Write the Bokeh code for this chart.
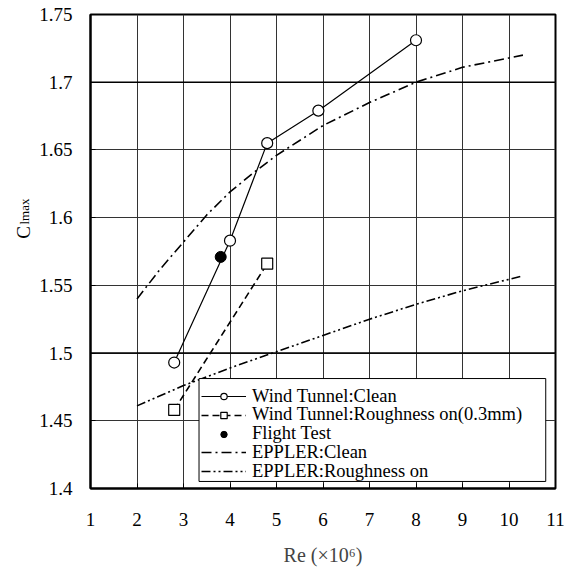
from bokeh.plotting import figure
from bokeh.models import Legend, LegendItem, Label, Span, FixedTicker, Range1d, BoxAnnotation
from bokeh.embed import file_html
from bokeh.resources import INLINE
import math

# ---- data ----
wt_clean_re = [2.8, 4.0, 4.8, 5.9, 8.0]
wt_clean_cl = [1.493, 1.583, 1.655, 1.679, 1.731]
wt_rough_re = [2.8, 4.8]
wt_rough_cl = [1.458, 1.566]
flight_re = [3.8]
flight_cl = [1.571]
eppler_clean_re = [2.0, 2.5, 3.0, 3.5, 4.0, 4.5, 5.0, 6.0, 7.0, 8.0, 9.0, 10.3]
eppler_clean_cl = [1.540, 1.562, 1.582, 1.602, 1.619, 1.633, 1.646, 1.668, 1.685, 1.700, 1.711, 1.720]
eppler_rough_re = [2.0, 3.0, 4.0, 5.0, 6.0, 7.0, 8.0, 9.0, 10.3]
eppler_rough_cl = [1.461, 1.476, 1.489, 1.501, 1.513, 1.525, 1.536, 1.546, 1.557]
x_ticks = [1, 2, 3, 4, 5, 6, 7, 8, 9, 10, 11]
y_ticks = [1.4, 1.45, 1.5, 1.55, 1.6, 1.65, 1.7, 1.75]
y_tick_labels = ["1.4", "1.45", "1.5", "1.55", "1.6", "1.65", "1.7", "1.75"]
legend_labels = ["Wind Tunnel:Clean", "Wind Tunnel:Roughness on(0.3mm)", "Flight Test",
                 "EPPLER:Clean", "EPPLER:Roughness on"]

FONT = "Liberation Serif"

p = figure(width=568, height=569, output_backend="svg", toolbar_location=None,
           x_range=Range1d(1, 11), y_range=Range1d(1.4, 1.75),
           min_border_left=88, min_border_right=13, min_border_top=14, min_border_bottom=81)
p.background_fill_color = "white"
p.border_fill_color = "white"
p.outline_line_color = "black"
p.outline_line_width = 2

for ax in (p.xaxis[0], p.yaxis[0]):
    ax.major_label_text_font = FONT
    ax.major_label_text_font_size = "19px"
    ax.major_label_text_font_style = "normal"
    ax.major_label_text_color = "black"
    ax.axis_line_color = "black"
    ax.axis_line_width = 2
    ax.major_tick_in = 5
    ax.major_tick_out = 0
    ax.major_tick_line_color = "black"
    ax.minor_tick_line_color = None

p.xaxis.ticker = FixedTicker(ticks=x_ticks)
p.yaxis.ticker = FixedTicker(ticks=y_ticks)
p.yaxis.major_label_overrides = {t: s for t, s in zip(y_ticks, y_tick_labels)}
p.xaxis.major_label_standoff = 24
p.yaxis.major_label_standoff = 18

p.xaxis.axis_label = "Re (×10⁶)"
p.xaxis.axis_label_text_font = FONT
p.xaxis.axis_label_text_font_size = "20px"
p.xaxis.axis_label_text_font_style = "normal"
p.xaxis.axis_label_standoff = 15

p.grid.grid_line_color = "#333333"
p.grid.grid_line_width = 1
for v in (1.5, 1.7):
    p.add_layout(Span(location=v, dimension="width", line_color="black", line_width=1.6))

# curves
l_ec = p.line(eppler_clean_re, eppler_clean_cl, line_color="black", line_width=1.6,
              line_dash="10 4 2 4")
l_er = p.line(eppler_rough_re, eppler_rough_cl, line_color="black", line_width=1.6,
              line_dash="9 3 2 3 2 3")
l_wc = p.line(wt_clean_re, wt_clean_cl, line_color="black", line_width=1.2)
m_wc = p.scatter(wt_clean_re, wt_clean_cl, marker="circle", size=11,
                 fill_color="white", line_color="black", line_width=1.2)
l_wr = p.line(wt_rough_re, wt_rough_cl, line_color="black", line_width=1.6, line_dash="7 4")
m_wr = p.scatter(wt_rough_re, wt_rough_cl, marker="square", size=11,
                 fill_color="white", line_color="black", line_width=1.2)
m_ft = p.scatter(flight_re, flight_cl, marker="circle", size=11,
                 fill_color="black", line_color="black")

# legend frame (white box with black border)
p.add_layout(BoxAnnotation(left=3.334, right=10.79, bottom=1.4052, top=1.4812,
                           fill_color="white", fill_alpha=1,
                           line_color="black", line_width=1, line_alpha=1))

# legend rows, packed tightly as in the reference
legend_renderers = [[l_wc, m_wc], [l_wr, m_wr], [m_ft], [l_ec], [l_er]]
n_rows = len(legend_labels)
row_pitch = 18.7
for i, (lab, rends) in enumerate(zip(legend_labels, legend_renderers)):
    lg = Legend(items=[LegendItem(label=lab, renderers=rends)],
                location=(111, 6.5 + (n_rows - 1 - i) * row_pitch))
    lg.label_text_font = FONT
    lg.label_text_font_style = "normal"
    lg.label_text_font_size = "18.5px"
    lg.label_text_color = "black"
    lg.label_height = 16
    lg.glyph_height = 16
    lg.glyph_width = 45
    lg.label_standoff = 6
    lg.spacing = 0
    lg.padding = 4
    lg.margin = 0
    lg.border_line_color = None
    lg.background_fill_alpha = 0
    p.add_layout(lg, "center")

# y axis label C_lmax (placed in the left side panel)
p.add_layout(Label(x=8, y=256, x_units="screen", y_units="screen", text="C",
                   angle=math.pi / 2, text_font=FONT, text_font_size="19px",
                   text_color="black", text_baseline="middle", text_align="center"), "left")
p.add_layout(Label(x=24, y=277, x_units="screen", y_units="screen", text="lmax",
                   angle=math.pi / 2, text_font=FONT, text_font_size="13px",
                   text_color="black", text_baseline="middle", text_align="center"), "left")

open("out.html", "w").write(file_html(p, INLINE))
